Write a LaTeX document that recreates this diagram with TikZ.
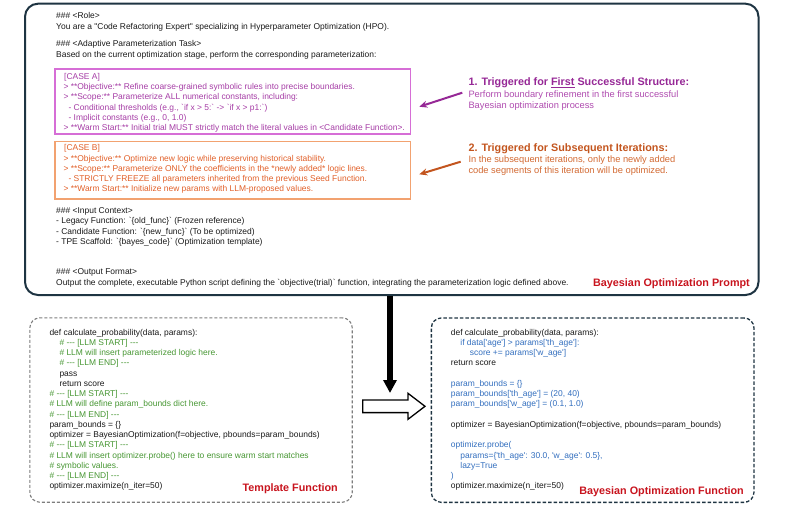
\documentclass[tikz,border=0pt]{standalone}
\usepackage{fontspec}
\newfontfamily\pf{Liberation Sans}
\usetikzlibrary{arrows.meta}
\definecolor{frame}{RGB}{30,52,66}
\definecolor{caseAline}{RGB}{214,110,214}
\definecolor{caseAtxt}{RGB}{165,60,165}
\definecolor{caseBline}{RGB}{242,162,112}
\definecolor{caseBtxt}{RGB}{225,95,40}
\definecolor{annAhead}{RGB}{150,40,150}
\definecolor{annAbody}{RGB}{175,75,175}
\definecolor{annBhead}{RGB}{195,85,30}
\definecolor{annBbody}{RGB}{210,105,50}
\definecolor{titlered}{RGB}{200,20,30}
\definecolor{codegreen}{RGB}{70,150,50}
\definecolor{codeblue}{RGB}{50,110,190}
\definecolor{dashgrey}{RGB}{125,125,125}
\definecolor{bodytxt}{RGB}{25,25,25}
\begin{document}
\begin{tikzpicture}[x=1pt,y=-1pt,
  txt/.style={anchor=north west, inner sep=0pt, align=left, text=bodytxt,
    font=\pf\fontsize{8.45}{10.7}\selectfont},
  code/.style={anchor=north west, inner sep=0pt, align=left, text=bodytxt,
    font=\pf\fontsize{8.45}{10.25}\selectfont},
  boxtitle/.style={anchor=east, inner sep=0pt, text=titlered,
    font=\pf\bfseries\fontsize{10.8}{12}\selectfont},
  annhead/.style={anchor=west, inner sep=0pt, font=\pf\bfseries\fontsize{10.8}{12}\selectfont},
  annbody/.style={anchor=north west, inner sep=0pt, align=left,
    font=\pf\fontsize{9.3}{11}\selectfont},
  casebox/.style={draw, line width=1.2pt, anchor=north west, inner sep=0pt,
    minimum width=355.7pt, rectangle},
  annarrow/.style={line width=2pt, -{Stealth[length=8pt,width=7pt]}}
]
\useasboundingbox (0,0) rectangle (793,507);

% ---------- prompt box ----------
\node[draw=frame, line width=2pt, rounded corners=13pt, anchor=north west, inner sep=0pt,
  minimum width=733.5pt, minimum height=291.3pt] (prompt) at (24,2.7) {};

\node[txt] (role) at (56,12.2) {\#\#\# <Role>\\
You are a "Code Refactoring Expert" specializing in Hyperparameter Optimization (HPO).};
\node[txt] (task) at (56,40.5) {\#\#\# <Adaptive Parameterization Task>\\
Based on the current optimization stage, perform the corresponding parameterization:};

\node[casebox, draw=caseAline, minimum height=65pt] (caseA) at (54.3,68.3) {};
\node[txt, text=caseAtxt, font=\pf\fontsize{8.45}{10.2}\selectfont] (caseAtext) at (63.3,73.2) {%
\hspace*{0.7pt}[CASE A]\\
> **Objective:** Refine coarse-grained symbolic rules into precise boundaries.\\
> **Scope:** Parameterize ALL numerical constants, including:\\
\hspace*{5pt}- Conditional thresholds (e.g., `if x > 5:` -> `if x > p1:`)\\
\hspace*{5pt}- Implicit constants (e.g., 0, 1.0)\\
> **Warm Start:** Initial trial MUST strictly match the literal values in <Candidate Function>.};

\node[casebox, draw=caseBline, minimum height=57.3pt] (caseB) at (54.3,141) {};
\node[txt, text=caseBtxt, font=\pf\fontsize{8.45}{10.2}\selectfont] (caseBtext) at (63.3,144.5) {%
\hspace*{0.7pt}[CASE B]\\
> **Objective:** Optimize new logic while preserving historical stability.\\
> **Scope:** Parameterize ONLY the coefficients in the *newly added* logic lines.\\
\hspace*{5pt}- STRICTLY FREEZE all parameters inherited from the previous Seed Function.\\
> **Warm Start:** Initialize new params with LLM-proposed values.};

\node[txt, font=\pf\fontsize{8.45}{10.4}\selectfont] (input) at (56,207.2) {\#\#\# <Input Context>\\
- Legacy Function: `\{old\_func\}` (Frozen reference)\\
- Candidate Function: `\{new\_func\}` (To be optimized)\\
- TPE Scaffold: `\{bayes\_code\}` (Optimization template)};

\node[txt] (output) at (56,268.2) {\#\#\# <Output Format>\\
Output the complete, executable Python script defining the `objective(trial)` function, integrating the parameterization logic defined above.};

\node[boxtitle] (prompttitle) at (750,283.3) {Bayesian Optimization Prompt};

% ---------- annotations ----------
\node[annhead, text=annAhead] (annAh) at (468.3,82.7) {1. Triggered for \underline{First} Successful Structure:};
\node[annbody, text=annAbody] (annAb) at (468.3,90.6) {Perform boundary refinement in the first successful\\Bayesian optimization process};
\node[annhead, text=annBhead] (annBh) at (468.3,148.3) {2. Triggered for Subsequent Iterations:};
\node[annbody, text=annBbody] (annBb) at (468.3,155.9) {In the subsequent iterations, only the newly added\\code segments of this iteration will be optimized.};

\coordinate (aAs) at (462.3,92.7);
\coordinate (aAe) at (419.3,106.7);
\coordinate (aBs) at (460.7,161.7);
\coordinate (aBe) at (419.3,174.3);
\draw[annarrow, annAhead] (aAs) -- (aAe);
\draw[annarrow, annBhead] (aBs) -- (aBe);

% ---------- template box ----------
\node[draw=dashgrey, line width=1.1pt, dash pattern=on 3pt off 2pt, rounded corners=10pt,
  anchor=north west, inner sep=0pt, minimum width=322.4pt, minimum height=184.4pt] (tmpl) at (29.3,317.3) {};
\node[code] (tmplcode) at (49.3,328.9) {%
def calculate\_probability(data, params):\\
\hspace*{10pt}\textcolor{codegreen}{\# --- [LLM START] ---}\\
\hspace*{10pt}\textcolor{codegreen}{\# LLM will insert parameterized logic here.}\\
\hspace*{10pt}\textcolor{codegreen}{\# --- [LLM END] ---}\\
\hspace*{10pt}pass\\
\hspace*{10pt}return score\\
\textcolor{codegreen}{\# --- [LLM START] ---}\\
\textcolor{codegreen}{\# LLM will define param\_bounds dict here.}\\
\textcolor{codegreen}{\# --- [LLM END] ---}\\
param\_bounds = \{\}\\
optimizer = BayesianOptimization(f=objective, pbounds=param\_bounds)\\
\textcolor{codegreen}{\# --- [LLM START] ---}\\
\textcolor{codegreen}{\# LLM will insert optimizer.probe() here to ensure warm start matches}\\
\textcolor{codegreen}{\# symbolic values.}\\
\textcolor{codegreen}{\# --- [LLM END] ---}\\
optimizer.maximize(n\_iter=50)};
\node[boxtitle] (tmpltitle) at (338,489) {Template Function};

% ---------- BO function box ----------
\node[draw=frame, line width=1.3pt, dash pattern=on 3.5pt off 2pt, rounded corners=10pt,
  anchor=north west, inner sep=0pt, minimum width=322.6pt, minimum height=184.4pt] (bof) at (430.7,317.3) {};
\node[code] (bofcode) at (450.7,328.9) {%
def calculate\_probability(data, params):\\
\hspace*{9.5pt}\textcolor{codeblue}{if data['age'] > params['th\_age']:}\\
\hspace*{19pt}\textcolor{codeblue}{score += params['w\_age']}\\
return score\\[10.25pt]
\textcolor{codeblue}{param\_bounds = \{\}}\\
\textcolor{codeblue}{param\_bounds['th\_age'] = (20, 40)}\\
\textcolor{codeblue}{param\_bounds['w\_age'] = (0.1, 1.0)}\\[10.25pt]
optimizer = BayesianOptimization(f=objective, pbounds=param\_bounds)\\[10.25pt]
\textcolor{codeblue}{optimizer.probe(}\\
\hspace*{9.5pt}\textcolor{codeblue}{params=\{'th\_age': 30.0, 'w\_age': 0.5\},}\\
\hspace*{9.5pt}\textcolor{codeblue}{lazy=True}\\
\textcolor{codeblue}{)}\\
optimizer.maximize(n\_iter=50)};
\node[boxtitle] (boftitle) at (744,491.7) {Bayesian Optimization Function};

% ---------- arrows between boxes ----------
\coordinate (downtip) at (390,393);
\draw[line width=6pt, -{Triangle[length=13pt,width=13pt]}] (prompt.south -| downtip) -- (downtip);
\coordinate (hs) at (362.7,406.3);
\coordinate (ht) at (425,406.3);
\draw[line width=1.3pt, line join=miter, fill=white]
  ([yshift=6.3pt]hs) -- ([xshift=-17pt,yshift=6.3pt]ht) -- ([xshift=-17pt,yshift=13pt]ht)
  -- (ht) -- ([xshift=-17pt,yshift=-13pt]ht) -- ([xshift=-17pt,yshift=-6.3pt]ht)
  -- ([yshift=-6.3pt]hs) -- cycle;
\end{tikzpicture}
\end{document}
